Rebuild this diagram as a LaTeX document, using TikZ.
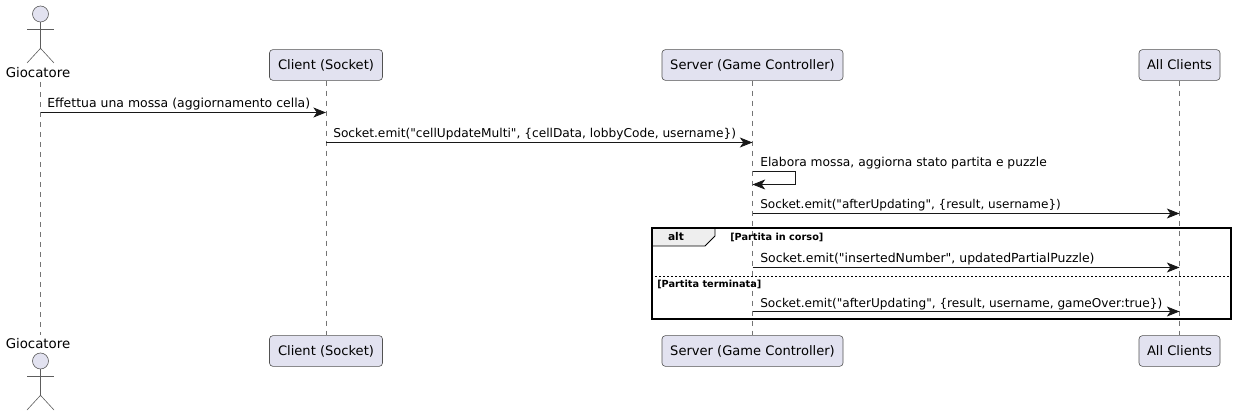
\documentclass[tikz,border=0pt]{standalone}
\usepackage{fontspec}
\setmainfont[Ligatures=TeXOff]{DejaVu Sans}
\usetikzlibrary{arrows.meta,positioning}
\definecolor{partfill}{HTML}{E2E2F0}
\definecolor{partline}{HTML}{181818}
\definecolor{tabfill}{HTML}{EEEEEE}
\tikzset{
	part/.style={draw=partline!75, line width=0.45pt, fill=partfill, rounded corners=2.5pt, minimum height=23pt, inner xsep=0pt, inner ysep=0pt, font=\fontsize{9.8pt}{12pt}\selectfont},
	life/.style={draw=partline!60, line width=0.4pt, dash pattern=on 3.75pt off 3.75pt},
	stick/.style={draw=partline!70, line width=0.45pt},
	msg/.style={draw=partline, line width=0.6pt, -{Stealth[length=9.5pt,width=7.5pt,inset=2.6pt]}},
	msgtext/.style={anchor=base west, inner sep=0pt, font=\fontsize{#1}{11pt}\selectfont},
	guard/.style={anchor=base west, inner sep=0pt, font=\bfseries\fontsize{7.3pt}{8pt}\selectfont},
}
\begin{document}
\begin{tikzpicture}[x=0.75pt, y=-0.75pt]
	\useasboundingbox (0,0) rectangle (1237,416);

	% participants, top row then bottom row
	\node[inner sep=0pt, font=\fontsize{10pt}{12pt}\selectfont] (giocTop) at (38,73) {Giocatore};
	\node[part, minimum width=84.75pt] (clientTop) at (326,65) {Client (Socket)};
	\node[part, minimum width=135.75pt] (serverTop) at (752.5,65) {Server (Game Controller)};
	\node[part, minimum width=60.75pt] (allTop) at (1179.5,65) {All Clients};

	\node[inner sep=0pt, font=\fontsize{10pt}{12pt}\selectfont] (giocBot) at (38,344) {Giocatore};
	\node[part, minimum width=84.75pt] (clientBot) at (326,351) {Client (Socket)};
	\node[part, minimum width=135.75pt] (serverBot) at (752.5,351) {Server (Game Controller)};
	\node[part, minimum width=60.75pt] (allBot) at (1179.5,351) {All Clients};

	% lifelines
	\coordinate (giocStart) at (40.5,82);
	\coordinate (giocEnd) at (40.5,335);
	\draw[life] (giocStart) -- (giocEnd);
	\draw[life] (clientTop.south) -- (clientBot.north);
	\draw[life] (serverTop.south) -- (serverBot.north);
	\draw[life] (allTop.south) -- (allBot.north);

	% actors
	\foreach \name/\yy in {actTop/14, actBot/361} {
		\node[circle, draw=partline!70, line width=0.45pt, fill=partfill, minimum size=12pt, inner sep=0pt] (\name) at (40.5,\yy) {};
		\draw[stick] (\name.south) -- ++(0,26) coordinate (\name hip);
		\draw[stick] (27,\yy+15) -- (54,\yy+15);
		\draw[stick] (27,\yy+49) -- (\name hip) -- (54,\yy+49);
	}

	% alt frame
	\draw[fill=tabfill, draw=none] (652,228) -- (715,228) -- (715,236) -- (705,246) -- (652,246) -- cycle;
	\node[draw=black, line width=1.1pt, minimum width=434.25pt, minimum height=68.25pt, inner sep=0pt] (altbox) at (941.5,273.5) {};
	\draw[line width=0.7pt] (715,228) -- (715,236) -- (705,246) -- (652,246);
	\node[inner sep=0pt, font=\bfseries\fontsize{8pt}{11pt}\selectfont] (alttab) at (676,237) {alt};
	\draw[line width=0.4pt, dash pattern=on 1.5pt off 1.5pt] (altbox.west |- 0,276) coordinate (sepL) -- (altbox.east |- 0,276) coordinate (sepR);
	\node[guard] (g1) at (730,241) {[Partita in corso]};
	\node[guard] (g2) at (657,287) {[Partita terminata]};

	% message rows
	\foreach \rowname/\yy in {r1/112.5, r2/142.5, r3/171.5, r4/184.5, r5/213.5, r6/267.5, r7/311.5}
		\coordinate (\rowname) at (0,\yy);

	\draw[msg] (giocStart |- r1) -- (clientTop |- r1);
	\node[msgtext=9.34pt] (m1) at (47,108) {Effettua una mossa (aggiornamento cella)};

	\draw[msg] (clientTop |- r2) -- (serverTop |- r2);
	\node[msgtext=9.15pt] (m2) at (333,138) {Socket.emit("cellUpdateMulti", \{cellData, lobbyCode, username\})};

	\draw[msg] (serverTop |- r3) -| ++(43,13) -- (serverTop |- r4);
	\node[msgtext=9.2pt] (m3) at (760,167) {Elabora mossa, aggiorna stato partita e puzzle};

	\draw[msg] (serverTop |- r5) -- (allTop |- r5);
	\node[msgtext=9.05pt] (m4) at (760,209) {Socket.emit("afterUpdating", \{result, username\})};

	\draw[msg] (serverTop |- r6) -- (allTop |- r6);
	\node[msgtext=9.34pt] (m5) at (760,263) {Socket.emit("insertedNumber", updatedPartialPuzzle)};

	\draw[msg] (serverTop |- r7) -- (allTop |- r7);
	\node[msgtext=9.09pt] (m6) at (760,307) {Socket.emit("afterUpdating", \{result, username, gameOver:true\})};
\end{tikzpicture}
\end{document}
